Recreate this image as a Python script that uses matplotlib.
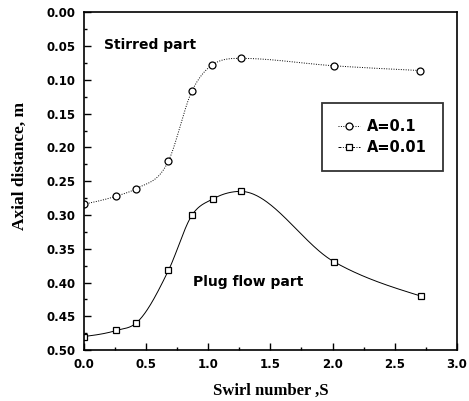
import numpy as np
import matplotlib
matplotlib.use("Agg")
import matplotlib.pyplot as plt
from matplotlib.ticker import MultipleLocator, FormatStrFormatter

# swirl number vs axial distance
swirl_a1 = [0.0, 0.26, 0.42, 0.68, 0.87, 1.03, 1.26, 2.01, 2.70]
dist_a1 = [0.284, 0.272, 0.261, 0.220, 0.116, 0.078, 0.068, 0.079, 0.086]

swirl_a2 = [0.0, 0.26, 0.42, 0.68, 0.87, 1.04, 1.26, 2.01, 2.71]
dist_a2 = [0.480, 0.471, 0.460, 0.382, 0.300, 0.276, 0.265, 0.369, 0.420]

labels = ["A=0.1", "A=0.01"]


def smooth(x, y, xs):
    # hermite curve through the points (3-point slopes, limited), for drawing only
    x = np.asarray(x, float)
    y = np.asarray(y, float)
    h = np.diff(x)
    d = np.diff(y) / h
    m = np.zeros_like(y)
    for k in range(1, len(x) - 1):
        if d[k - 1] * d[k] <= 0:
            continue
        s = (h[k] * d[k - 1] + h[k - 1] * d[k]) / (h[k - 1] + h[k])
        lim = 3 * min(abs(d[k - 1]), abs(d[k]))
        m[k] = np.sign(s) * min(abs(s), lim)
    m[0] = 1.5 * d[0] - 0.5 * m[1]
    m[-1] = 1.5 * d[-1] - 0.5 * m[-2]
    i = np.clip(np.searchsorted(x, xs) - 1, 0, len(x) - 2)
    t = (xs - x[i]) / h[i]
    return ((2 * t**3 - 3 * t**2 + 1) * y[i] + (t**3 - 2 * t**2 + t) * h[i] * m[i]
            + (-2 * t**3 + 3 * t**2) * y[i + 1] + (t**3 - t**2) * h[i] * m[i + 1])


fig = plt.figure(figsize=(4.69, 4.01), dpi=100)
ax = fig.add_axes([0.179, 0.127, 0.795, 0.842])

tick_font = {"family": "DejaVu Sans", "weight": "bold", "size": 8.5}

xs1 = np.linspace(swirl_a1[0], swirl_a1[-1], 400)
ax.plot(xs1, smooth(swirl_a1, dist_a1, xs1), color="black", lw=0.7,
        linestyle=(0, (1, 1.5)))
ax.plot(swirl_a1, dist_a1, "o", color="black", mfc="white", ms=5, mew=0.9)

xs2 = np.linspace(swirl_a2[0], swirl_a2[-1], 400)
ax.plot(xs2, smooth(swirl_a2, dist_a2, xs2), color="black", lw=0.7)
ax.plot(swirl_a2, dist_a2, "s", color="black", mfc="white", ms=5, mew=0.9)

# legend proxies
h1, = ax.plot([], [], color="black", lw=0.7, linestyle=(0, (1, 1.5)),
              marker="o", mfc="white", ms=5, mew=0.9)
h2, = ax.plot([], [], color="black", lw=0.7, linestyle=(0, (3, 1.5, 1, 1.5)),
              marker="s", mfc="white", ms=5, mew=0.9)
leg = ax.legend([h1, h2], labels, loc="upper left",
                bbox_to_anchor=(0.639, 0.733), frameon=True, fancybox=False,
                edgecolor="black", handlelength=1.5, handletextpad=0.5,
                borderpad=1.1, labelspacing=0.45, borderaxespad=0,
                prop={"family": "DejaVu Sans", "weight": "bold", "size": 10.5})
leg.get_frame().set_linewidth(1.3)

ax.text(0.16, 0.048, "Stirred part", fontsize=10, fontweight="bold",
        family="DejaVu Sans", va="center", ha="left")
ax.text(0.875, 0.399, "Plug flow part", fontsize=10, fontweight="bold",
        family="DejaVu Sans", va="center", ha="left")

ax.set_xlim(0, 3.0)
ax.set_ylim(0.50, 0.0)
ax.xaxis.set_major_locator(MultipleLocator(0.5))
ax.xaxis.set_minor_locator(MultipleLocator(0.25))
ax.yaxis.set_major_locator(MultipleLocator(0.05))
ax.yaxis.set_minor_locator(MultipleLocator(0.025))
ax.xaxis.set_major_formatter(FormatStrFormatter("%.1f"))
ax.yaxis.set_major_formatter(FormatStrFormatter("%.2f"))
ax.tick_params(which="both", direction="in", top=False, right=False, width=1.0)
ax.tick_params(which="major", length=5, pad=6)
ax.tick_params(which="minor", length=2.5)
for lab in ax.get_xticklabels() + ax.get_yticklabels():
    lab.set_fontproperties(tick_font)
for sp in ax.spines.values():
    sp.set_linewidth(1.2)

ax.set_xlabel("Swirl number ,S", family="Liberation Serif", fontsize=12,
              fontweight="bold", labelpad=8)
ax.set_ylabel("Axial distance, m", family="Liberation Serif", fontsize=12.5,
              fontweight="bold")
ax.yaxis.set_label_coords(-0.15, 0.545)

fig.savefig("out.png", dpi=100)
